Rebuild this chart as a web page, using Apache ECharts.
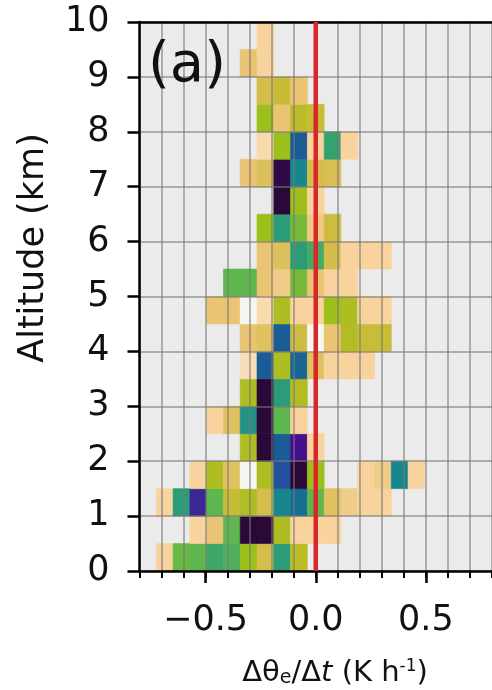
<!DOCTYPE html>
<html>
<head>
<meta charset="utf-8">
<script src="https://cdn.jsdelivr.net/npm/echarts@6/dist/echarts.min.js"></script>
<style>
  html, body { margin: 0; padding: 0; background: #ffffff; }
  #chart { width: 492px; height: 690px; }
</style>
</head>
<body>
<div id="chart"></div>
<script>
// Histogram bin layout: 21 rate bins spanning [-0.8, 0.8] K/h, 0.5 km altitude bins
const rateRange = [-0.8, 0.8];
const rateBinCount = 21;
const altitudeStep = 0.5;

// Frequency per bin; one array per altitude layer (lowest layer first), 21 rate bins each
const layer0  = [0, 2, 6.8, 7, 7.6, 7.3, 6, 4, 8, 5, 0, 0, 0, 0, 0, 0, 0, 0, 0, 0, 0];
const layer1  = [0, 0, 0, 2, 3, 7, 13, 13, 5.5, 2, 2, 2, 0, 0, 0, 0, 0, 0, 0, 0, 0];
const layer2  = [0, 2, 8, 11.6, 7, 4.6, 5.5, 4, 9, 9.6, 7, 3.5, 2.5, 2, 2, 0, 0, 0, 0, 0, 0];
const layer3  = [0, 0, 0, 2, 5.5, 3.5, 1, 5.5, 10.6, 13, 6, 0, 0, 2, 2.5, 9, 2, 0, 0, 0, 0];
const layer4  = [0, 0, 0, 0, 0, 0, 5.5, 13, 10, 12, 2, 0, 0, 0, 0, 0, 0, 0, 0, 0, 0];
const layer5  = [0, 0, 0, 0, 2, 3.5, 8.5, 13, 7, 2, 0, 0, 0, 0, 0, 0, 0, 0, 0, 0, 0];
const layer6  = [0, 0, 0, 0, 0, 0, 5.5, 13, 8, 5.3, 0, 0, 0, 0, 0, 0, 0, 0, 0, 0, 0];
const layer7  = [0, 0, 0, 0, 0, 0, 1.7, 10, 5.5, 9.8, 3.5, 2, 2, 2, 0, 0, 0, 0, 0, 0, 0];
const layer8  = [0, 0, 0, 0, 0, 0, 3, 3.5, 10, 4.3, 1, 3, 5.3, 4.6, 4.6, 0, 0, 0, 0, 0, 0];
const layer9  = [0, 0, 0, 0, 3, 3, 1, 1.8, 5.5, 2, 2, 6, 5.5, 2, 2, 0, 0, 0, 0, 0, 0];
const layer10 = [0, 0, 0, 0, 0, 7, 7, 3, 2.5, 6.6, 3, 2, 2, 0, 0, 0, 0, 0, 0, 0, 0];
const layer11 = [0, 0, 0, 0, 0, 0, 0, 3, 3.6, 8, 7.5, 4, 2, 2, 2, 0, 0, 0, 0, 0, 0];
const layer12 = [0, 0, 0, 0, 0, 0, 0, 6, 8, 6.6, 2.6, 4.3, 0, 0, 0, 0, 0, 0, 0, 0, 0];
const layer13 = [0, 0, 0, 0, 0, 0, 0, 0, 13, 6, 2, 0, 0, 0, 0, 0, 0, 0, 0, 0, 0];
const layer14 = [0, 0, 0, 0, 0, 0, 3, 3.6, 12.8, 9, 4, 3.8, 0, 0, 0, 0, 0, 0, 0, 0, 0];
const layer15 = [0, 0, 0, 0, 0, 0, 0, 1.8, 6, 10, 2, 7.8, 2, 0, 0, 0, 0, 0, 0, 0, 0];
const layer16 = [0, 0, 0, 0, 0, 0, 0, 6, 3, 5, 4.6, 0, 0, 0, 0, 0, 0, 0, 0, 0, 0];
const layer17 = [0, 0, 0, 0, 0, 0, 0, 4, 4.6, 3, 0, 0, 0, 0, 0, 0, 0, 0, 0, 0, 0];
const layer18 = [0, 0, 0, 0, 0, 0, 3, 2, 0, 0, 0, 0, 0, 0, 0, 0, 0, 0, 0, 0, 0];
const layer19 = [0, 0, 0, 0, 0, 0, 0, 2, 0, 0, 0, 0, 0, 0, 0, 0, 0, 0, 0, 0, 0];

const layers = [layer0, layer1, layer2, layer3, layer4, layer5, layer6, layer7, layer8, layer9,
                layer10, layer11, layer12, layer13, layer14, layer15, layer16, layer17, layer18, layer19];

// Axis ticks
const altitudeTicks = [0, 1, 2, 3, 4, 5, 6, 7, 8, 9, 10];
const rateLabelTicks = [-0.5, 0, 0.5];

// Colour scale from lowest to highest frequency
const palette = ['#f6f6f1', '#f8d39e', '#eac473', '#d5bd4c', '#bdbb27', '#9dbf1c', '#5db64e',
                 '#2a9d78', '#17878d', '#195c96', '#2c4a9e', '#460f8d', '#2a0837'];

const binWidth = (rateRange[1] - rateRange[0]) / rateBinCount;
const cells = [];
layers.forEach((row, j) => {
  row.forEach((v, k) => {
    if (v > 0) {
      const x0 = rateRange[0] + k * binWidth;
      cells.push([x0, x0 + binWidth, j * altitudeStep, (j + 1) * altitudeStep, v]);
    }
  });
});

function renderCell(params, api) {
  const topLeft = api.coord([api.value(0), api.value(3)]);
  const bottomRight = api.coord([api.value(1), api.value(2)]);
  const color = api.visual('color');
  return {
    type: 'rect',
    shape: {
      x: topLeft[0], y: topLeft[1],
      width: bottomRight[0] - topLeft[0],
      height: bottomRight[1] - topLeft[1]
    },
    style: { fill: color, stroke: color, lineWidth: 0.6 }
  };
}

const tickFont = { fontFamily: 'DejaVu Sans', fontSize: 35, color: '#111111' };
const gridLine = { show: true, lineStyle: { color: 'rgba(120,120,120,0.55)', width: 2 } };

const chart = echarts.init(document.getElementById('chart'), null, { renderer: 'canvas' });
chart.setOption({
  animation: false,
  backgroundColor: '#ffffff',
  grid: {
    left: 139.5, top: 22, width: 354.5, height: 549,
    show: true, backgroundColor: '#ebebeb', borderWidth: 0
  },
  visualMap: {
    show: false, type: 'continuous', dimension: 4, seriesIndex: 0,
    min: 1, max: 13, inRange: { color: palette }
  },
  xAxis: [
    {
      type: 'value', min: rateRange[0], max: rateRange[1], interval: 0.1, z: 5,
      axisLine: { show: true, onZero: false, lineStyle: { color: '#000', width: 2.5 } },
      axisTick: { show: true, length: 7, lineStyle: { color: '#000', width: 2 } },
      axisLabel: {
        customValues: rateLabelTicks, margin: 32, ...tickFont,
        formatter: v => (v < 0 ? '\u2212' : '') + Math.abs(v).toFixed(1)
      },
      splitLine: gridLine
    },
    {
      type: 'value', min: rateRange[0], max: rateRange[1], position: 'bottom', z: 5,
      axisLine: { show: false },
      axisTick: { show: true, customValues: rateLabelTicks, length: 12, lineStyle: { color: '#000', width: 2.5 } },
      axisLabel: { show: false },
      splitLine: { show: false }
    },
    {
      type: 'value', min: rateRange[0], max: rateRange[1], position: 'top', z: 5,
      axisLine: { show: true, onZero: false, lineStyle: { color: '#000', width: 2.5 } },
      axisTick: { show: false }, axisLabel: { show: false }, splitLine: { show: false }
    }
  ],
  yAxis: {
    type: 'value', min: altitudeTicks[0], max: altitudeTicks[altitudeTicks.length - 1], interval: 1, z: 5,
    axisLine: { show: true, onZero: false, lineStyle: { color: '#000', width: 2.5 } },
    axisTick: { show: true, length: 12, lineStyle: { color: '#000', width: 2.5 } },
    axisLabel: { margin: 30, ...tickFont },
    splitLine: gridLine
  },
  series: [
    {
      type: 'custom', renderItem: renderCell, data: cells, z: 2,
      encode: { x: [0, 1], y: [2, 3] }
    },
    {
      // zero-tendency reference line
      type: 'line', data: [[0, altitudeTicks[0]], [0, altitudeTicks[altitudeTicks.length - 1]]],
      symbol: 'none', z: 10, silent: true,
      lineStyle: { color: '#d9262a', width: 4.5 }
    }
  ],
  graphic: [
    {
      type: 'text', left: 148, top: 38, z: 20,
      style: { text: '(a)', font: '56px "DejaVu Sans"', fill: '#111111' }
    },
    {
      type: 'text', x: 34, y: 248, rotation: Math.PI / 2, z: 20,
      style: {
        text: 'Altitude (km)', font: '35px "DejaVu Sans"', fill: '#111111',
        align: 'center', verticalAlign: 'middle'
      }
    },
    {
      type: 'text', x: 335, y: 673, z: 20,
      style: {
        text: 'Δθ{sub|e}/Δ{it|t} (K h{sup|-1})',
        font: '29px "DejaVu Sans"', fill: '#111111',
        align: 'center', verticalAlign: 'middle',
        rich: {
          sub: { fontFamily: 'DejaVu Sans', fontSize: 19, verticalAlign: 'bottom', padding: [11, 0, 0, 0] },
          it: { fontFamily: 'DejaVu Sans', fontStyle: 'italic', fontSize: 29 },
          sup: { fontFamily: 'DejaVu Sans', fontSize: 17, verticalAlign: 'top', padding: [0, 0, 13, 0] }
        }
      }
    }
  ]
});
</script>
</body>
</html>
